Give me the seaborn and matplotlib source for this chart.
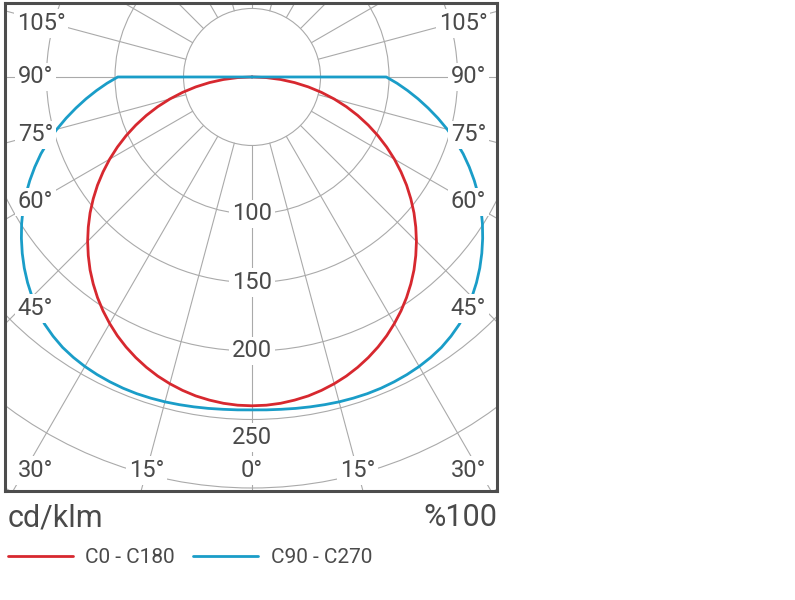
import numpy as np
import pandas as pd
import matplotlib.pyplot as plt
from matplotlib.patches import Circle
import seaborn as sns

# gamma angles (deg from nadir) and intensities in cd/klm, symmetric curves
angles = [0, 2.5, 5, 7.5, 10, 12.5, 15, 17.5, 20, 22.5, 25, 27.5, 30, 32.5, 35, 37.5,
          40, 42.5, 45, 47.5, 50, 52.5, 55, 57.5, 60, 62.5, 65, 67.5, 70, 72.5, 75,
          77.5, 80, 82.5, 85, 87.5, 90]
c0_c180 = [240, 239.8, 239.1, 237.9, 236.4, 234.3, 231.8, 228.9, 225.5, 221.7, 217.5,
           212.9, 207.8, 202.4, 196.6, 190.4, 183.9, 176.9, 169.7, 162.1, 154.3, 146.1,
           137.7, 128.9, 120.0, 110.8, 101.4, 91.8, 82.1, 72.2, 62.1, 51.9, 41.7, 31.3,
           20.9, 10.5, 0]
c90_c270 = [243, 243.2, 243.5, 244, 244.5, 245, 245.5, 245.8, 246, 245.9, 245.5, 244.9,
            244, 242.7, 241, 238.5, 235.5, 231.5, 227, 222.2, 217, 211.4, 205.5, 199.4,
            193, 186.2, 179, 171.6, 164, 155.9, 147.5, 139, 130.5, 122.2, 114, 106, 98]
planes = ["C0 - C180", "C90 - C270"]
colors = ["#d7282f", "#1a9dc8"]

rings = [50, 100, 150, 200, 250, 300, 350, 400]
ring_labels = [100, 150, 200, 250]
angle_labels = [0, 15, 30, 45, 60, 75, 90, 105]
grid_step = 15

txt_col = "#4a4a4a"
grid_col = "#aaaaaa"

sns.set_style("white")
plt.rcParams["font.family"] = ["Roboto", "DejaVu Sans"]


def sweep(vals):
    # full curve from -90 over nadir to +90, closed through the centre
    g = [-a for a in angles[::-1]] + angles[1:]
    v = vals[::-1] + vals[1:]
    g = [-90] + g + [90]
    v = [0] + v + [0]
    return np.array(g, dtype=float), np.array(v, dtype=float)


rows = []
for name, vals in zip(planes, [c0_c180, c90_c270]):
    g, v = sweep(vals)
    rad = np.radians(g)
    for k in range(len(g)):
        rows.append({"plane": name, "x": v[k] * np.sin(rad[k]), "y": -v[k] * np.cos(rad[k])})
df = pd.DataFrame(rows)

fig = plt.figure(figsize=(7.95, 6.0), dpi=100)
ax = fig.add_axes([5 / 795, 109 / 600, 492 / 795, 488 / 600])
xmin, xmax, ymin, ymax = -180.3, 178.8, -302.2, 54.0

# polar grid
for r in rings:
    ax.add_patch(Circle((0, 0), r, fill=False, ec=grid_col, lw=0.8, zorder=1))
for a in range(0, 360, grid_step):
    s, c = np.sin(np.radians(a)), -np.cos(np.radians(a))
    ax.plot([50 * s, 600 * s], [50 * c, 600 * c], color=grid_col, lw=0.8, zorder=1)

sns.lineplot(data=df, x="x", y="y", hue="plane", hue_order=planes, palette=colors,
             sort=False, estimator=None, linewidth=2.0, ax=ax, zorder=3)

box = dict(boxstyle="square,pad=0.12", fc="white", ec="none")

# intensity labels along nadir
for r in ring_labels:
    yy = -r if r < 250 else -r - 13
    ax.text(0, yy, str(r), ha="center", va="center", fontsize=17, color=txt_col,
            bbox=box, zorder=5)

# angle labels along the frame
inset_x, inset_bottom = 158, 287
nudge = {45: (0, -11), 105: (4, -3.5)}
for a in angle_labels:
    for side in ([1] if a == 0 else [-1, 1]):
        s = side * np.sin(np.radians(a))
        c = -np.cos(np.radians(a))
        bottom_exit = c < 0 and (abs(s) < 1e-9 or abs(ymin / c) * abs(s) <= abs(xmin))
        if bottom_exit:
            t = inset_bottom / abs(c)
            px, py = np.clip(t * s, -inset_x, inset_x), -inset_bottom
        else:
            t = inset_x / abs(s)
            dx, dy = nudge.get(a, (0, 0))
            px, py = t * s - side * dx, t * c + dy
        ax.text(px, py, f"{a}°", ha="center", va="center", fontsize=17,
                color=txt_col, bbox=box, zorder=5)

ax.set_xlim(xmin, xmax)
ax.set_ylim(ymin, ymax)
ax.set_xticks([])
ax.set_yticks([])
ax.set_xlabel("")
ax.set_ylabel("")
for sp in ax.spines.values():
    sp.set_color("#4d4d4d")
    sp.set_linewidth(2.2)
    sp.set_visible(True)

ax.text(3 / 492, -27 / 488, "cd/klm", transform=ax.transAxes, ha="left", va="center",
        fontsize=22, color=txt_col)
ax.text(1.0, -27 / 488, "%100", transform=ax.transAxes, ha="right", va="center",
        fontsize=22, color=txt_col)

sns.move_legend(ax, "upper left", bbox_to_anchor=(3 / 492, -57 / 488), ncol=2,
                title=None, frameon=False, handlelength=3.1, handletextpad=0.6,
                columnspacing=0.9, borderaxespad=0, borderpad=0, fontsize=15,
                labelcolor=txt_col)

fig.savefig("out.png", dpi=100)
